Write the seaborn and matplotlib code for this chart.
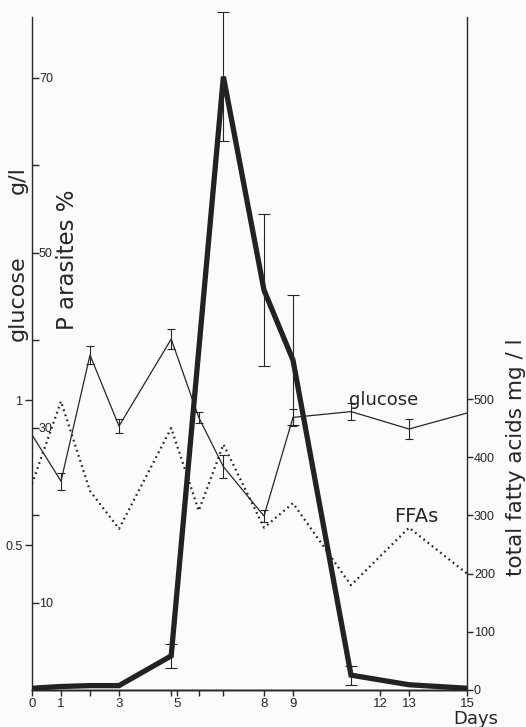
import numpy as np
import pandas as pd
import matplotlib
matplotlib.use("Agg")
import matplotlib.pyplot as plt
import seaborn as sns

# ---------------- data ----------------
days = [0, 1, 2, 3, 4.8, 5.75, 6.6, 8, 9, 11, 13, 15]
glucose = [0.88, 0.72, 1.155, 0.91, 1.21, 0.94, 0.77, 0.60, 0.94, 0.96, 0.90, 0.955]
glucose_err = [0, 0.03, 0.03, 0.025, 0.035, 0.02, 0.04, 0.02, 0.03, 0.03, 0.035, 0]
ffa = [354, 496, 342, 277, 450, 308, 422, 279, 321, 180, 279, 200]

par_days = [0, 1, 2, 3, 4.8, 6.6, 8, 9, 11, 13, 15]
parasites = [0.2, 0.4, 0.5, 0.5, 3.9, 70.1, 45.7, 37.7, 1.7, 0.6, 0.2]
par_err = [0, 0, 0, 0, 1.4, 7.4, 8.7, 7.4, 1.1, 0, 0]

xtick_days = [0, 1, 3, 5, 8, 9, 12, 13, 15]
xtick_labels = ["0", "1", "3", "5", "8", "9", "12", "13", "15"]
minor_days = [2, 4.8, 5.75, 6.6]
par_ticks = [10, 20, 30, 40, 50, 60, 70]
par_labels = ["10", "", "30", "", "50", "", "70"]
gluc_ticks = [0.5, 1]
gluc_labels = ["0.5", "1"]
ffa_ticks = [0, 100, 200, 300, 400, 500]
ffa_labels = ["0", "100", "200", "300", "400", "500"]

df_g = pd.DataFrame({"day": days, "glucose": glucose, "err": glucose_err, "ffa": ffa})
df_p = pd.DataFrame({"day": par_days, "parasites": parasites, "err": par_err})

# ---------------- style ----------------
sns.set_style("white")
plt.rcParams["font.family"] = ["Liberation Sans", "DejaVu Sans"]
ink = "#262626"
plt.rcParams["axes.edgecolor"] = ink
plt.rcParams["xtick.color"] = ink
plt.rcParams["ytick.color"] = ink
plt.rcParams["text.color"] = ink
LBL = ["DejaVu Sans"]

W, H = 526, 727
fig = plt.figure(figsize=(W / 100, H / 100), dpi=100)
fig.patch.set_facecolor("#fbfbfa")
L, R, T, B = 32, 467, 17, 690
ax_g = fig.add_axes([L / W, 1 - B / H, (R - L) / W, (B - T) / H])
ax_g.patch.set_visible(False)
ax_f = ax_g.twinx()
ax_p = ax_g.twinx()

for ax in (ax_g, ax_f, ax_p):
    ax.spines["top"].set_visible(False)
    for s in ("left", "right", "bottom"):
        ax.spines[s].set_linewidth(1.0)
ax_f.spines["left"].set_visible(False)
ax_p.spines["right"].set_visible(False)
ax_p.spines["left"].set_visible(False)
ax_g.spines["right"].set_visible(False)


def unclip(container):
    for child in container.get_children():
        child.set_clip_on(False)


# ---------------- glucose ----------------
sns.lineplot(data=df_g, x="day", y="glucose", ax=ax_g, color=ink, lw=0.9,
             estimator=None, legend=False)
m = df_g["err"] > 0
eb = ax_g.errorbar(df_g.loc[m, "day"], df_g.loc[m, "glucose"], yerr=df_g.loc[m, "err"],
                   fmt="none", ecolor=ink, elinewidth=0.8, capsize=3, capthick=0.8)
unclip(eb)
ax_g.set_xlim(0, 15)
ax_g.set_ylim(0, (B - T) / 290)
ax_g.set_yticks(gluc_ticks, gluc_labels, fontsize=9)
ax_g.tick_params(axis="y", direction="out", length=5, width=1, pad=2, left=True)
ax_g.set_xticks(xtick_days, xtick_labels, fontsize=9.5)
ax_g.set_xticks(minor_days, minor=True)
ax_g.tick_params(axis="x", which="both", direction="out", length=4, width=1, pad=2, bottom=True)
ax_g.set_xlabel("")
ax_g.set_ylabel("")

# ---------------- free fatty acids ----------------
sns.lineplot(data=df_g, x="day", y="ffa", ax=ax_f, color=ink, lw=1.6,
             linestyle=(0, (0.8, 1.6)), estimator=None, legend=False)
ax_f.set_ylim(0, (B - T) / 0.582)
ax_f.set_yticks(ffa_ticks, ffa_labels, fontsize=9)
ax_f.tick_params(axis="y", direction="out", length=4, width=1, pad=1, right=True)
ax_f.set_xlabel("")
ax_f.set_ylabel("")

# ---------------- parasites ----------------
sns.lineplot(data=df_p, x="day", y="parasites", ax=ax_p, color="#222222", lw=3.8,
             estimator=None, legend=False, solid_joinstyle="miter")
mp = df_p["err"] > 0
eb = ax_p.errorbar(df_p.loc[mp, "day"], df_p.loc[mp, "parasites"], yerr=df_p.loc[mp, "err"],
                   fmt="none", ecolor=ink, elinewidth=0.8, capsize=4.5, capthick=0.8)
unclip(eb)
ax_p.set_ylim(0, (B - T) / 8.75)
ax_p.yaxis.tick_left()
ax_p.set_yticks(par_ticks, par_labels, fontsize=9, ha="left")
ax_p.tick_params(axis="y", direction="in", length=5, width=1, pad=-5, left=True, right=False)
ax_p.set_xlabel("")
ax_p.set_ylabel("")

# ---------------- texts ----------------
fig.text(18 / W, 1 - 298 / H, "glucose", rotation=90, ha="center", va="center",
         fontsize=16, family=LBL)
fig.text(18 / W, 1 - 180 / H, "g/l", rotation=90, ha="center", va="center",
         fontsize=16, family=LBL)
fig.text(68 / W, 1 - 260 / H, "P arasites %", rotation=90, ha="center", va="center",
         fontsize=16.5, family=LBL)
fig.text(516 / W, 1 - 457 / H, "total fatty acids mg / l", rotation=90,
         ha="center", va="center", fontsize=15.5, family=LBL)
fig.text(384 / W, 1 - 400 / H, "glucose", ha="center", va="center", fontsize=13, family=LBL)
fig.text(416 / W, 1 - 516 / H, "FFAs", ha="center", va="center", fontsize=14, family=LBL)
fig.text(476 / W, 1 - 719.5 / H, "Days", ha="center", va="center", fontsize=13, family=LBL)

fig.savefig("out.png", dpi=100, facecolor=fig.get_facecolor())
